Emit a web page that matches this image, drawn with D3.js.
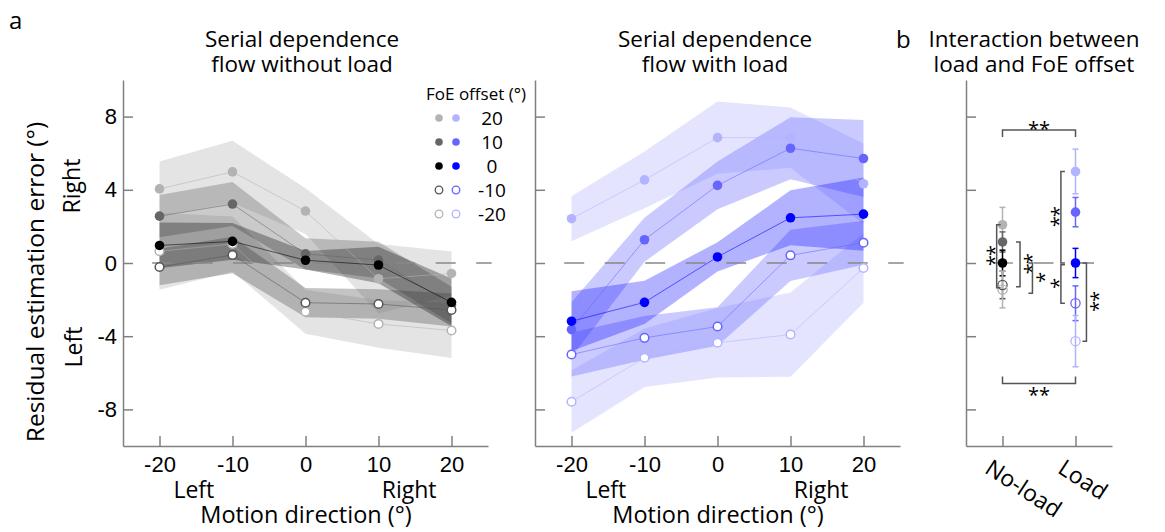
<!DOCTYPE html>
<html>
<head>
<meta charset="utf-8">
<script src="https://cdn.jsdelivr.net/npm/d3@7"></script>
<style>
  body { margin: 0; background: #fff; }
  svg { font-family: "Open Sans", sans-serif; }
  .axis path, .axis line { stroke: #808080; stroke-width: 1.5; }
  .axis text { font-size: 22px; fill: #000; }
  .star { fill: #000; }
</style>
</head>
<body>
<svg id="chart" width="1165" height="532"></svg>
<script>
const motionDirs = [-20, -10, 0, 10, 20];
const foeOffsets = [20, 10, 0, -10, -20];
const yTicks = [-8, -4, 0, 4, 8];

// panel a, without load: mean and band half-width per FoE offset
const noLoadMean = [
  [4.05, 4.98, 2.84, -0.86, -0.57],
  [2.56, 3.22, 0.50, 0.16, -2.30],
  [0.96, 1.18, 0.15, -0.11, -2.15],
  [-0.22, 0.44, -2.17, -2.24, -2.57],
  [0.64, 1.04, -2.66, -3.33, -3.69]
];
const noLoadSE = [
  [1.5, 1.7, 1.25, 1.9, 1.2],
  [1.15, 1.2, 0.85, 1.0, 1.0],
  [1.25, 1.0, 0.5, 1.0, 1.3],
  [1.0, 1.0, 0.8, 0.8, 0.9],
  [2.1, 1.5, 1.2, 1.3, 1.5]
];

// panel a, with load
const loadMean = [
  [2.42, 4.54, 6.85, 6.85, 4.33],
  [-3.64, 1.27, 4.24, 6.27, 5.71],
  [-3.18, -2.15, 0.33, 2.47, 2.67],
  [-5.0, -4.09, -3.47, 0.42, 1.11],
  [-7.58, -5.18, -4.36, -3.91, -0.27]
];
const loadSE = [
  [1.23, 1.55, 1.97, 1.65, 2.2],
  [1.5, 1.2, 1.3, 1.7, 2.1],
  [1.63, 1.18, 0.8, 1.5, 2.0],
  [1.2, 1.2, 1.05, 1.4, 1.2],
  [1.7, 1.6, 1.9, 2.3, 1.9]
];

// panel b: interaction (No-load, Load)
const groups = ['No-load', 'Load'];
const noLoadInt = [2.09, 1.15, 0.0, -1.2, -1.45];
const noLoadIntSE = [0.95, 0.55, 0.7, 0.75, 1.0];
const loadInt = [5.0, 2.78, 0.0, -2.2, -4.27];
const loadIntSE = [1.22, 0.8, 0.8, 0.95, 1.4];

// significance brackets: vertical ones at group position x, horizontal ones at value y
const vBrackets = [
  {x: 0.92, y1: 2.09, y2: -1.35, dir: 1, label: '**'},
  {x: 1.24, y1: 1.15, y2: -1.3, dir: -1, label: '**'},
  {x: 1.41, y1: 0, y2: -1.65, dir: -1, label: '*'},
  {x: 1.80, y1: 5.0, y2: 0, dir: 1, label: '**'},
  {x: 1.80, y1: -0.1, y2: -2.2, dir: 1, label: '*'},
  {x: 2.15, y1: 0, y2: -4.27, dir: -1, label: '**'}
];
const hBrackets = [
  {y: 7.27, x1: 1, x2: 2, dir: 1, label: '**'},
  {y: -6.58, x1: 1, x2: 2, dir: -1, label: '**'}
];

const grayCols = ['#b3b3b3', '#666666', '#000000', '#555555', '#b3b3b3'];
const blueCols = ['#b3b3ff', '#6666ff', '#0000ff', '#6666ff', '#b3b3ff'];
const bandOpacity = [0.35, 0.35, 0.3, 0.35, 0.35];
const isOpen = [false, false, false, true, true];

const svg = d3.select('#chart');

const y = d3.scaleLinear().domain([-10, 10]).range([446, 80]);
const xA = d3.scaleLinear().domain([-25, 25]).range([123, 488]);
const xB = d3.scaleLinear().domain([-25, 25]).range([535, 900]);
const xC = d3.scaleLinear().domain([0.5, 2.5]).range([966, 1112]);

function drawAxes(x, xTicks, showY, showX) {
  svg.append('g').attr('class', 'axis')
    .attr('transform', `translate(${x.range()[0]},0)`)
    .call(d3.axisLeft(y).tickValues(yTicks).tickSizeInner(-10).tickSizeOuter(0).tickPadding(6)
      .tickFormat(d => showY ? String(d) : ''));
  svg.append('g').attr('class', 'axis')
    .attr('transform', `translate(0,${y.range()[0]})`)
    .call(d3.axisBottom(x).tickValues(xTicks).tickSizeInner(-10).tickSizeOuter(0).tickPadding(10)
      .tickFormat(d => showX ? String(d) : ''));
}

function zeroLine(x0, x1) {
  svg.append('line')
    .attr('x1', x0).attr('x2', x1)
    .attr('y1', y(0)).attr('y2', y(0))
    .attr('stroke', '#888').attr('stroke-width', 1.3)
    .attr('stroke-dasharray', '20,20.5');
}

function flowPanel(x, means, ses, cols) {
  const area = d3.area()
    .x((d, i) => x(motionDirs[i]))
    .y0(d => y(d.m - d.s))
    .y1(d => y(d.m + d.s));
  const line = d3.line().x((d, i) => x(motionDirs[i])).y(d => y(d));
  const order = [0, 4, 1, 3, 2];
  order.forEach(k => {
    const pts = means[k].map((m, i) => ({m: m, s: ses[k][i]}));
    svg.append('path').datum(pts)
      .attr('d', area)
      .attr('fill', cols[k])
      .attr('fill-opacity', bandOpacity[k]);
  });
  zeroLine(x(-21), x(25.5));
  order.forEach(k => {
    svg.append('path').datum(means[k])
      .attr('d', line)
      .attr('fill', 'none')
      .attr('stroke', cols[k])
      .attr('stroke-opacity', 0.55)
      .attr('stroke-width', 1);
  });
  order.forEach(k => {
    svg.append('g').selectAll('circle')
      .data(means[k]).enter()
      .append('circle')
      .attr('cx', (d, i) => x(motionDirs[i]))
      .attr('cy', d => y(d))
      .attr('r', isOpen[k] ? 4.3 : 4.8)
      .attr('fill', isOpen[k] ? '#fff' : cols[k])
      .attr('stroke', isOpen[k] ? cols[k] : 'none')
      .attr('stroke-width', 1.5);
  });
}

// ---- panel a, left
flowPanel(xA, noLoadMean, noLoadSE, grayCols);
drawAxes(xA, motionDirs, true, true);

// ---- panel a, middle
flowPanel(xB, loadMean, loadSE, blueCols);
drawAxes(xB, motionDirs, false, true);

// ---- panel b
zeroLine(993, 1112);
drawAxes(xC, [1, 2], false, false);

function interaction(gx, means, ses, cols) {
  means.forEach((m, k) => {
    const cx = xC(gx);
    const g = svg.append('g').attr('stroke', cols[k]).attr('stroke-width', 1.5);
    g.append('line').attr('x1', cx).attr('x2', cx).attr('y1', y(m - ses[k])).attr('y2', y(m + ses[k]));
    [m - ses[k], m + ses[k]].forEach(v => {
      g.append('line').attr('x1', cx - 3).attr('x2', cx + 3).attr('y1', y(v)).attr('y2', y(v));
    });
  });
  means.forEach((m, k) => {
    svg.append('circle')
      .attr('cx', xC(gx)).attr('cy', y(m))
      .attr('r', isOpen[k] ? 4.6 : 4.8)
      .attr('fill', isOpen[k] ? 'none' : cols[k])
      .attr('stroke', isOpen[k] ? cols[k] : 'none')
      .attr('stroke-width', 1.3);
  });
}
interaction(1, noLoadInt, noLoadIntSE, grayCols);
interaction(2, loadInt, loadIntSE, blueCols);

// asterisk label centred on (cx, cy); vertical ones are turned a quarter
const starSize = 20;
function stars(label, cx, cy, vertical) {
  if (!vertical) {
    svg.append('text').attr('class', 'star')
      .attr('x', cx).attr('y', cy + 0.6 * starSize)
      .attr('text-anchor', 'middle').attr('font-size', starSize).text(label);
    return;
  }
  svg.append('text').attr('class', 'star')
    .attr('transform', `translate(${cx + 0.6 * starSize},${cy}) rotate(-89.5)`)
    .attr('text-anchor', 'middle').attr('font-size', starSize)
    .attr('letter-spacing', -1)
    .text(label);
}

const bracketCol = '#555';
vBrackets.forEach(b => {
  const bx = xC(b.x);
  svg.append('path')
    .attr('d', `M${bx + b.dir * 4},${y(b.y1)}H${bx}V${y(b.y2)}H${bx + b.dir * 4}`)
    .attr('fill', 'none').attr('stroke', bracketCol).attr('stroke-width', 1.5);
  stars(b.label, bx - b.dir * 7, (y(b.y1) + y(b.y2)) / 2, true);
});
hBrackets.forEach(b => {
  const by = y(b.y);
  svg.append('path')
    .attr('d', `M${xC(b.x1)},${by + b.dir * 7}V${by}H${xC(b.x2)}V${by + b.dir * 7}`)
    .attr('fill', 'none').attr('stroke', bracketCol).attr('stroke-width', 1.5);
  stars(b.label, (xC(b.x1) + xC(b.x2)) / 2, b.dir > 0 ? by - 6 : by + 7, false);
});

groups.forEach((g, i) => {
  svg.append('text')
    .attr('transform', `translate(${xC(i + 1) - 19},${472}) rotate(33)`)
    .attr('font-size', 23)
    .text(g);
});

// ---- legend
const legend = svg.append('g');
legend.append('text').attr('x', 476).attr('y', 100).attr('text-anchor', 'middle')
  .attr('font-size', 17).text('FoE offset (°)');
foeOffsets.forEach((o, k) => {
  const ly = 118 + k * 24;
  [[439, grayCols[k]], [456, blueCols[k]]].forEach(([lx, c]) => {
    legend.append('circle').attr('cx', lx).attr('cy', ly).attr('r', 3.8)
      .attr('fill', isOpen[k] ? '#fff' : c)
      .attr('stroke', isOpen[k] ? c : 'none').attr('stroke-width', 1.3);
  });
  legend.append('text').attr('x', 492).attr('y', ly).attr('dy', '0.36em')
    .attr('text-anchor', 'middle').attr('font-size', 19).text(o);
});

// ---- titles and labels
function multiline(xc, lines, size) {
  const t = svg.append('text').attr('x', xc).attr('y', 47)
    .attr('text-anchor', 'middle').attr('font-size', size);
  lines.forEach((s, i) => {
    t.append('tspan').attr('x', xc).attr('dy', i === 0 ? 0 : 25).text(s);
  });
}
svg.append('text').attr('x', 9).attr('y', 29).attr('font-size', 24).text('a');
svg.append('text').attr('x', 896).attr('y', 48).attr('font-size', 24).text('b');
multiline(302, ['Serial dependence', 'flow without load'], 22.5);
multiline(715, ['Serial dependence', 'flow with load'], 22.5);
multiline(1034, ['Interaction between', 'load and FoE offset'], 22.5);

svg.append('text')
  .attr('transform', 'translate(44,282) rotate(-90)')
  .attr('text-anchor', 'middle').attr('font-size', 24.5)
  .text('Residual estimation error (°)');
svg.append('text')
  .attr('transform', 'translate(80,186) rotate(-90)')
  .attr('text-anchor', 'middle').attr('font-size', 23).text('Right');
svg.append('text')
  .attr('transform', 'translate(82,347) rotate(-90)')
  .attr('text-anchor', 'middle').attr('font-size', 23).text('Left');

[[xA, 306], [xB, 718]].forEach(([x, cx]) => {
  svg.append('text').attr('x', x(-15.3)).attr('y', 498).attr('text-anchor', 'middle')
    .attr('font-size', 23).text('Left');
  svg.append('text').attr('x', x(14.2)).attr('y', 498).attr('text-anchor', 'middle')
    .attr('font-size', 23).text('Right');
  svg.append('text').attr('x', cx).attr('y', 523).attr('text-anchor', 'middle')
    .attr('font-size', 23.5).text('Motion direction (°)');
});
</script>
</body>
</html>
